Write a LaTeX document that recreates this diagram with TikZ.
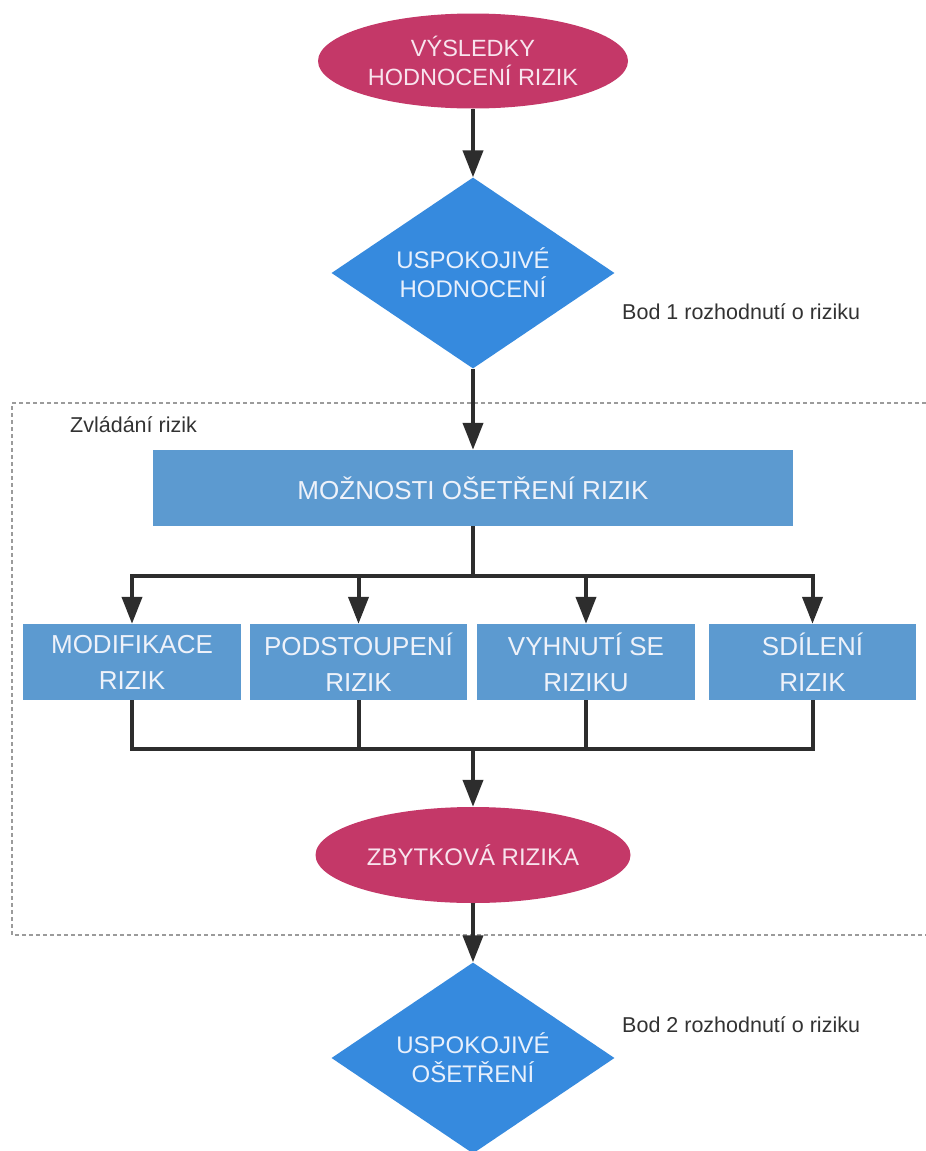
\documentclass[tikz,border=0pt]{standalone}
\usepackage{fontspec}
\setmainfont{Liberation Sans}
\usetikzlibrary{shapes.geometric,arrows.meta}
\definecolor{ellcol}{RGB}{196,56,104}
\definecolor{diacol}{RGB}{54,138,222}
\definecolor{boxcol}{RGB}{92,154,208}
\definecolor{elltext}{RGB}{248,228,238}
\definecolor{diatext}{RGB}{232,240,252}
\definecolor{boxtext}{RGB}{238,242,250}
\definecolor{linecol}{RGB}{45,45,45}
\definecolor{lblcol}{RGB}{50,50,50}
\definecolor{dashcol}{RGB}{155,155,155}
\begin{document}
\begin{tikzpicture}[x=1pt,y=-1pt,
  conn/.style={line width=4pt,draw=linecol,line join=miter},
  arr/.style={conn,-{Triangle[width=20pt,length=27pt]}},
  ellnode/.style={ellipse,fill=ellcol,text=elltext,minimum width=310pt,minimum height=95pt,inner sep=0pt,align=center,font=\fontsize{23.5}{29}\selectfont},
  dianode/.style={diamond,fill=diacol,text=diatext,minimum width=283pt,minimum height=191pt,inner sep=0pt,aspect=1.48,align=center,font=\fontsize{24}{29}\selectfont},
  boxnode/.style={rectangle,fill=boxcol,text=boxtext,minimum height=76pt,inner sep=0pt,align=center,font=\fontsize{26}{36}\selectfont},
  lbl/.style={text=lblcol,inner sep=0pt,font=\fontsize{21.5}{26}\selectfont},
  dashline/.style={draw=dashcol,line width=1.2pt,dash pattern=on 4pt off 3pt}]
\useasboundingbox (0,0) rectangle (926,1151);

% dashed frame (right side lies outside the picture)
\draw[dashline] (926,403) -- (12,403) -- (12,935) -- (926,935);
\node[lbl,anchor=base west] (zv) at (70,432) {Zvládání rizik};

\node[ellnode] (e1) at (473,61) {VÝSLEDKY\\HODNOCENÍ RIZIK};
\node[dianode] (d1) at (473,273) {USPOKOJIVÉ\\HODNOCENÍ};
\node[lbl,anchor=west] (l1) at (622,312) {Bod 1 rozhodnutí o riziku};

\node[boxnode,minimum width=640pt] (m) at (473,488) {MOŽNOSTI OŠETŘENÍ RIZIK};

\node[boxnode,minimum width=218pt] (b1) at (132,662) {MODIFIKACE\\RIZIK};
\node[boxnode,minimum width=217pt] (b2) at (358.5,662) {PODSTOUPENÍ\\RIZIK};
\node[boxnode,minimum width=218pt] (b3) at (586,662) {VYHNUTÍ SE\\RIZIKU};
\node[boxnode,minimum width=207pt] (b4) at (812.5,662) {SDÍLENÍ\\RIZIK};

\node[ellnode,minimum width=315pt,minimum height=96pt,font=\fontsize{24}{29}\selectfont] (e2) at (473,855) {ZBYTKOVÁ RIZIKA};
\node[dianode] (d2) at (473,1058) {USPOKOJIVÉ\\OŠETŘENÍ};
\node[lbl,anchor=west] (l2) at (622,1025) {Bod 2 rozhodnutí o riziku};

\coordinate (bt) at (473,576);
\coordinate (bb) at (473,749);

\draw[arr] (e1.south) -- (d1.north);
\draw[arr] (d1.south) -- (m.north);
\draw[arr] (m.south) -- (bt) -| (b1.north);
\draw[arr] (m.south) -- (bt) -| (b2.north);
\draw[arr] (m.south) -- (bt) -| (b3.north);
\draw[arr] (m.south) -- (bt) -| (b4.north);
\draw[conn] (b1.south) |- (bb);
\draw[conn] (b2.south) |- (bb);
\draw[conn] (b3.south) |- (bb);
\draw[conn] (b4.south) |- (bb);
\draw[arr] (bb) -- (e2.north);
\draw[arr] (e2.south) -- (d2.north);
\end{tikzpicture}
\end{document}
